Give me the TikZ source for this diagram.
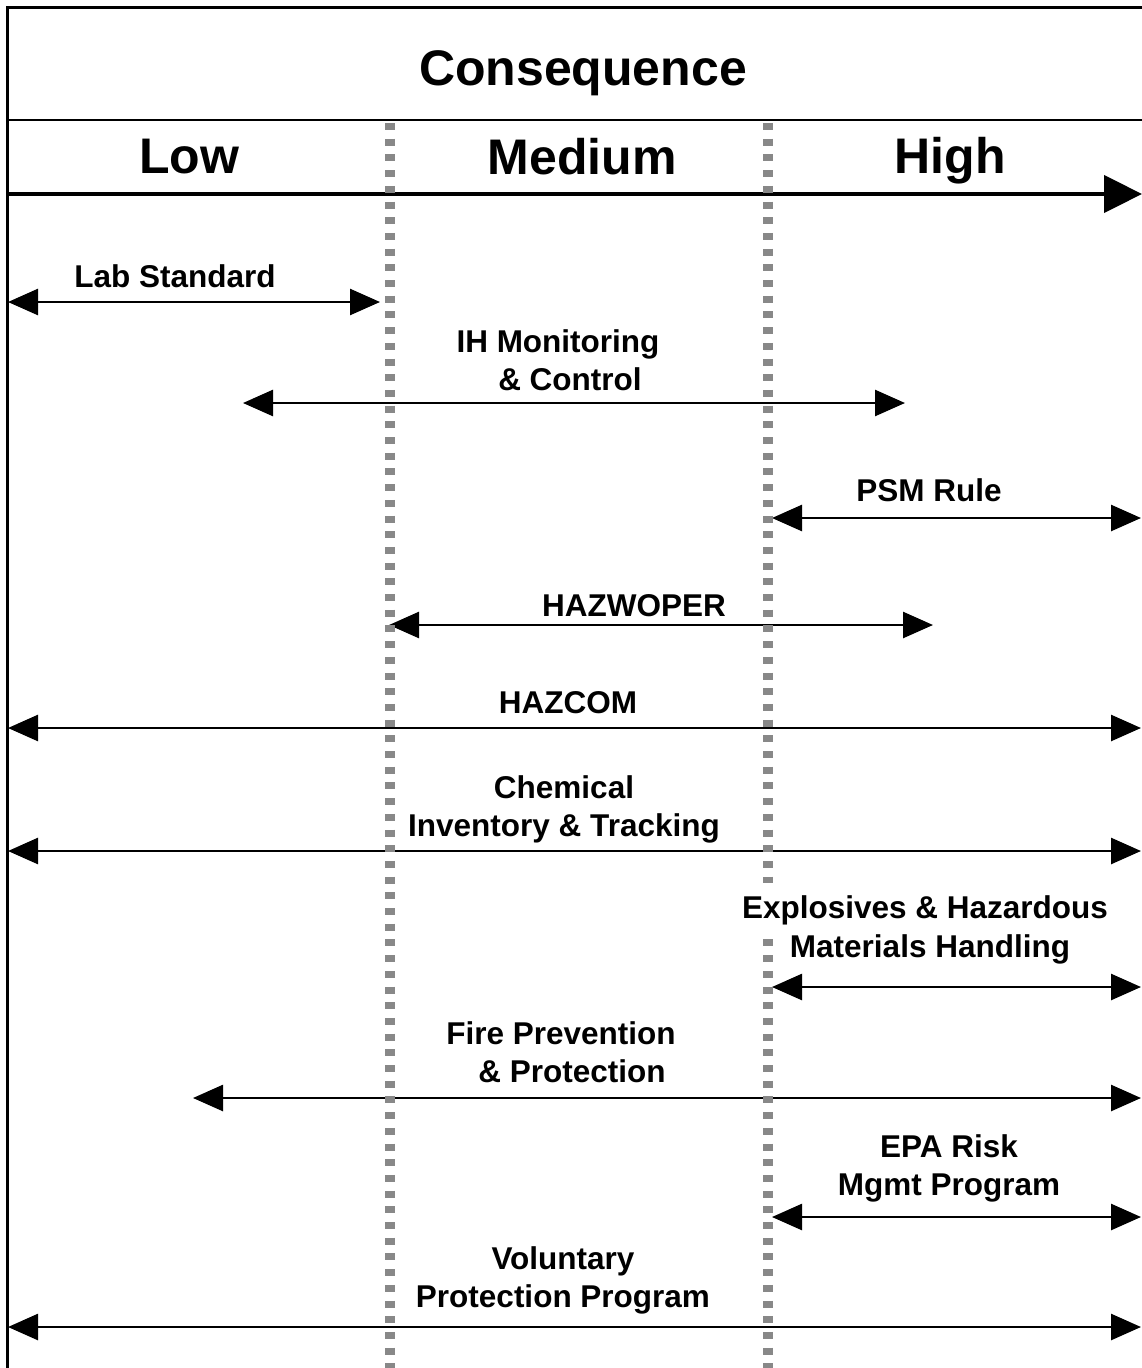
\documentclass[tikz,border=0pt]{standalone}
\usepackage{fontspec}
\setmainfont{Liberation Sans}
\usetikzlibrary{arrows.meta}
\definecolor{sepgray}{RGB}{136,136,136}
\newcommand{\headfont}{\fontsize{50}{60}\selectfont\bfseries}
\newcommand{\lblfont}{\fontsize{31.5}{38}\selectfont\bfseries}

\begin{document}
\begin{tikzpicture}[x=1pt,y=-1pt,>={Triangle[length=30pt,width=26pt]},
    head/.style={font=\headfont,inner sep=0pt,anchor=base},
    lbl/.style={font=\lblfont,align=center,inner sep=0pt,anchor=base},
    spanarr/.style={<->,line width=2.6pt},
    colsep/.style={draw=sepgray,line width=10pt,dash pattern=on 7pt off 8.7pt}]
    \useasboundingbox (0,0) rectangle (1142,1368);
    % frame and header rows
    \draw[line width=3pt] (7,1372)--(7,7)--(1146,7);
    \draw[line width=2.6pt] (7,120)--(1146,120);
    \coordinate (ax-l) at (7,194);
    \coordinate (ax-r) at (1142,194);
    \draw[-{Triangle[length=38pt,width=37pt]},line width=4.5pt] (ax-l)--(ax-r);
    % ranges
    \foreach \n/\y/\a/\b in {lab/302/8/380, ih/403/243/905, psm/518/772/1141,
        hazw/625/389/933, hazc/728/8/1141, chem/851/8/1141, expl/987/772/1141,
        fire/1098/193/1141, epa/1217/772/1141, vpp/1327/8/1141}{
        \coordinate (\n-l) at (\a,\y);
        \coordinate (\n-r) at (\b,\y);
        \draw[spanarr] (\n-l)--(\n-r);
    }
    % column separators
    \coordinate (sepa-t) at (390,123);
    \coordinate (sepa-b) at (390,1372);
    \coordinate (sepb-t) at (768,123);
    \coordinate (sepb-b) at (768,1372);
    \draw[colsep] (sepa-t)--(sepa-b);
    \draw[colsep] (sepb-t)--(sepb-b);
    % headings
    \node[head] (cons) at (583,85) {Consequence};
    \node[head] (low) at (189,173) {Low};
    \node[head] (med) at (582,174) {Medium};
    \node[head] (high) at (950,173) {High};
    % labels (base = last line)
    \node[lbl] (lab) at (175,287) {Lab Standard};
    \node[lbl] (ih) at (558,390) {IH Monitoring\\\hspace*{24pt}\& Control};
    \node[lbl] (psm) at (929,501) {PSM Rule};
    \node[lbl] (hazw) at (634,616) {HAZWOPER};
    \node[lbl] (hazc) at (568,713) {HAZCOM};
    \node[lbl] (chem) at (564,836) {Chemical\\Inventory \& Tracking};
    \node[lbl,fill=white,inner sep=12pt] (expla) at (925,918) {Explosives \& Hazardous};
    \node[lbl] (explb) at (930,957) {Materials Handling};
    \node[lbl] (fire) at (561,1082) {Fire Prevention\\\hspace*{22pt}\& Protection};
    \node[lbl] (epa) at (949,1195) {EPA Risk\\Mgmt Program};
    \node[lbl] (vpp) at (563,1307) {Voluntary\\Protection Program};
\end{tikzpicture}
\end{document}
